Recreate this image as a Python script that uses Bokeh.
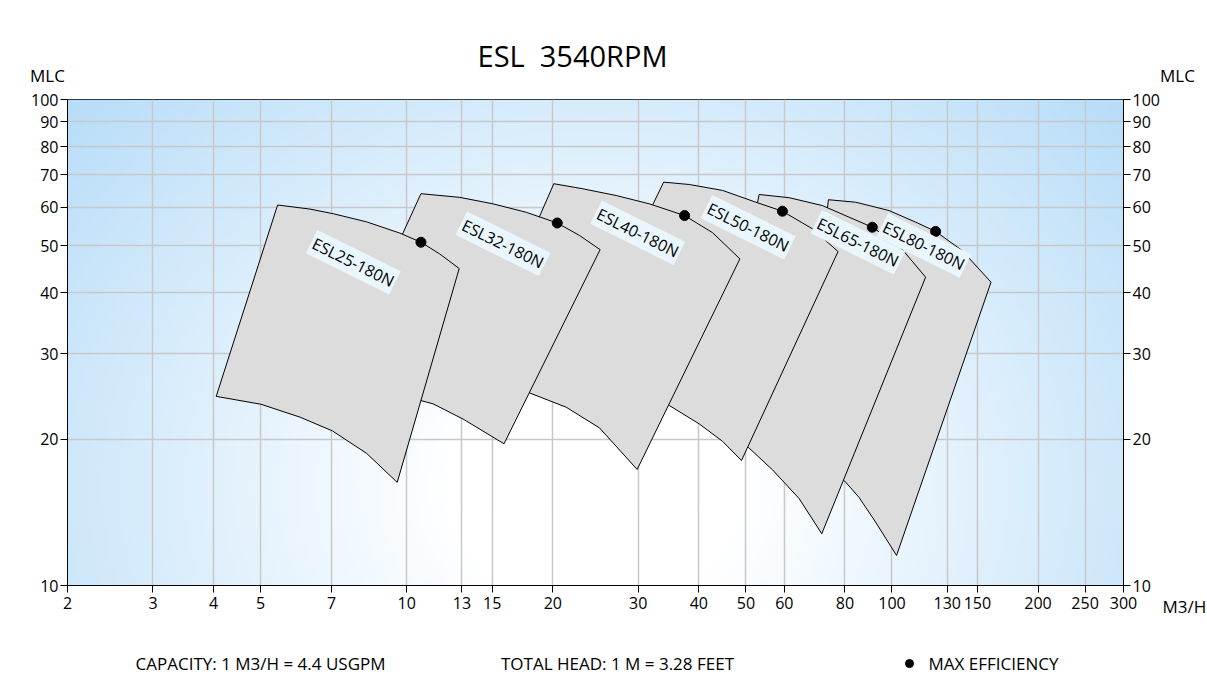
import numpy as np
from bokeh.plotting import figure
from bokeh.layouts import column, row
from bokeh.models import LogAxis, FixedTicker, NumeralTickFormatter, Label
from bokeh.core.properties import value
from bokeh.embed import file_html
from bokeh.resources import INLINE

# ---------------- data ----------------
title_text = "ESL\u00a0\u00a03540RPM"
models = ["ESL25-180N", "ESL32-180N", "ESL40-180N",
          "ESL50-180N", "ESL65-180N", "ESL80-180N"]

# upper curve (largest impeller), capacity M3/H -> head MLC
top_q = [
    [5.42, 6.32, 7.06, 8.27, 9.68, 10.7, 11.7, 12.83],
    [10.7, 12.86, 15.06, 17.64, 20.43, 22.71, 25.04],
    [20.1, 23.07, 27.02, 31.63, 37.38, 42.7, 48.6],
    [33.85, 38.23, 44.76, 52.44, 59.47, 68.55, 77.43],
    [53.26, 61.39, 71.88, 81.55, 91.1, 103.4, 117.3],
    [73.95, 84.2, 98.57, 111.9, 123.0, 139.5, 160.0],
]
top_h = [
    [60.65, 59.5, 58.2, 56.0, 53.1, 50.85, 48.1, 44.9],
    [64.0, 62.9, 61.0, 58.6, 55.7, 52.5, 49.1],
    [67.1, 65.5, 63.45, 61.0, 57.7, 53.2, 47.0],
    [67.6, 66.85, 65.0, 61.46, 58.9, 54.2, 48.66],
    [63.76, 62.8, 60.5, 57.27, 54.6, 50.06, 43.09],
    [62.2, 61.46, 59.1, 55.93, 53.52, 48.9, 42.08],
]
# lower curve (smallest impeller)
bottom_q = [
    [4.05, 5.01, 6.03, 7.03, 8.27, 9.56],
    [7.11, 8.81, 11.33, 13.07, 15.87],
    [13.5, 15.5, 17.92, 21.32, 24.96, 29.85],
    [21.6, 28.0, 34.77, 40.08, 44.76, 48.97],
    [42.0, 46.0, 50.55, 56.72, 64.36, 71.68],
    [65.0, 72.0, 79.9, 85.5, 92.54, 102.2],
]
bottom_h = [
    [24.5, 23.6, 22.2, 20.8, 18.7, 16.3],
    [26.2, 25.3, 23.65, 22.0, 19.57],
    [27.0, 26.2, 24.9, 23.27, 21.1, 17.33],
    [26.8, 25.4, 23.46, 21.5, 19.8, 18.08],
    [21.2, 20.36, 19.26, 17.3, 15.1, 12.78],
    [18.79, 17.67, 16.4, 15.19, 13.5, 11.53],
]
# max efficiency points
best_q = [10.7, 20.43, 37.38, 59.47, 91.1, 123.0]
best_h = [50.85, 55.7, 57.7, 58.9, 54.6, 53.52]
# model name anchors
label_q = [7.76, 15.79, 29.93, 50.55, 85.1, 116.35]
label_h = [46.27, 50.47, 53.2, 54.6, 50.85, 50.06]

x_ticks = [2, 3, 4, 5, 7, 10, 13, 15, 20, 30, 40, 50, 60, 80, 100, 130, 150, 200, 250, 300]
y_ticks = [10, 20, 30, 40, 50, 60, 70, 80, 90, 100]
x_unit = "M3/H"
y_unit = "MLC"
notes = ["CAPACITY: 1 M3/H = 4.4 USGPM", "TOTAL HEAD: 1 M = 3.28 FEET"]
legend_text = "MAX EFFICIENCY"

# ---------------- layout constants ----------------
FONT = "Open Sans"
W = 1206
TOP_H = 89
MAIN_W, MAIN_H = 1162, 532
BOT_H = 54


def blank(width, height):
    f = figure(width=width, height=height, x_range=(0, width), y_range=(height, 0),
               output_backend="svg", toolbar_location=None, min_border=0,
               x_axis_location=None, y_axis_location=None)
    f.grid.visible = False
    f.outline_line_color = None
    f.background_fill_color = "white"
    f.border_fill_color = "white"
    return f


def txt(f, x, y, s, size="16px", align="center"):
    f.text(x=[x], y=[y], text=[s], text_font=value(FONT), text_font_size=size,
           text_align=align, text_baseline="middle", text_color="black")


# ---- header ----
top = blank(W, TOP_H)
txt(top, 572, 55, title_text, size="29px")
txt(top, 47, 75, y_unit, size="17px")
txt(top, 1177, 75, y_unit, size="17px")

# ---- main chart ----
x_lo, x_hi = x_ticks[0], x_ticks[-1]
y_lo, y_hi = y_ticks[0], y_ticks[-1]
p = figure(width=MAIN_W, height=MAIN_H, x_axis_type="log", y_axis_type="log",
           x_range=(x_lo, x_hi), y_range=(y_lo, y_hi),
           output_backend="svg", toolbar_location=None,
           min_border_left=67, min_border_right=37,
           min_border_top=10, min_border_bottom=36)
p.background_fill_color = "white"
p.border_fill_color = "white"
p.outline_line_color = "black"
p.outline_line_width = 1

# background gradient
nx, ny = 400, 200
u = np.linspace(0, 1, nx)[None, :]
vt = np.linspace(1, 0, ny)[:, None]
d = np.sqrt(((u - 0.5) / 0.55) ** 2 + ((vt - 0.8) / 1.0) ** 2)
t = np.clip((d - 0.25) / 0.95, 0, 1)
edge = (184, 221, 248)
img = np.empty((ny, nx), dtype=np.uint32)
view = img.view(dtype=np.uint8).reshape((ny, nx, 4))
for k in range(3):
    view[..., k] = np.round(255 - t * (255 - edge[k])).astype(np.uint8)
view[..., 3] = 255
p.image_rgba(image=[img], x=x_lo, y=y_lo, dw=x_hi - x_lo, dh=y_hi - y_lo, level="image")

# axes
p.xaxis.ticker = FixedTicker(ticks=x_ticks)
p.yaxis.ticker = FixedTicker(ticks=y_ticks)
p.xaxis.formatter = NumeralTickFormatter(format="0")
p.yaxis.formatter = NumeralTickFormatter(format="0")
p.xgrid.ticker = FixedTicker(ticks=x_ticks)
p.ygrid.ticker = FixedTicker(ticks=y_ticks)
rax = LogAxis(ticker=FixedTicker(ticks=y_ticks), formatter=NumeralTickFormatter(format="0"))
p.add_layout(rax, "right")

for ax in [p.xaxis[0], p.yaxis[0], rax]:
    ax.axis_line_color = "black"
    ax.major_tick_line_color = "black"
    ax.major_tick_out = 7
    ax.major_tick_in = 0
    ax.minor_tick_line_color = None
    ax.major_label_text_font = FONT
    ax.major_label_text_font_size = "16px"
    ax.major_label_text_color = "black"
    ax.major_label_standoff = 2
p.xaxis[0].major_label_standoff = 4

for g in [p.xgrid[0], p.ygrid[0]]:
    g.grid_line_color = "#c8c8c8"
    g.grid_line_width = 1.5

# pump ranges (largest model at the back)
order = list(range(len(models)))[::-1]
xs = [top_q[i] + bottom_q[i][::-1] for i in order]
ys = [top_h[i] + bottom_h[i][::-1] for i in order]
p.patches(xs, ys, fill_color="#dcdcdc", line_color="black", line_width=1)

p.scatter(best_q, best_h, size=10, color="black")

for i, m in enumerate(models):
    p.add_layout(Label(x=label_q[i], y=label_h[i], text=m, angle=-0.46,
                       text_align="center", text_baseline="middle",
                       text_font=FONT, text_font_size="16px", text_color="black",
                       background_fill_color="#eaf6fe", padding=2))

# ---- unit strip right of the chart ----
strip = blank(W - MAIN_W, MAIN_H)
txt(strip, 0, 606 - TOP_H, x_unit, size="17px", align="left")

# ---- footer ----
bot = blank(W, BOT_H)
fy = 663 - TOP_H - MAIN_H
txt(bot, 260, fy, notes[0], size="17px")
txt(bot, 617, fy, notes[1], size="17px")
bot.scatter(x=[909], y=[fy], size=8, color="black")
txt(bot, 928, fy, legend_text, size="17px", align="left")

layout = column(top, row(p, column(strip)), bot)
open("out.html", "w").write(file_html(layout, INLINE))
